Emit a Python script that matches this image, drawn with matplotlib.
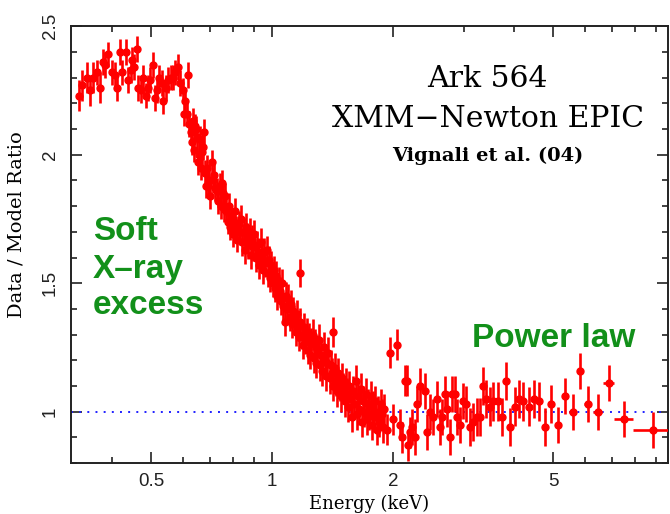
import matplotlib
matplotlib.use("Agg")
import matplotlib.pyplot as plt
import numpy as np
from matplotlib.ticker import FixedLocator, NullFormatter, MultipleLocator

# soft band, plateau below ~0.6 keV
soft_e = [0.331, 0.336, 0.347, 0.353, 0.358, 0.367, 0.374, 0.379, 0.385, 0.391,
          0.399, 0.407, 0.411, 0.418, 0.423, 0.432, 0.438, 0.445, 0.449, 0.454,
          0.461, 0.464, 0.472, 0.478, 0.486, 0.492, 0.497, 0.506, 0.512, 0.518,
          0.524, 0.532, 0.536, 0.545, 0.551, 0.560, 0.567, 0.573, 0.584, 0.590,
          0.599, 0.604, 0.608, 0.613, 0.618]
soft_r = [2.23, 2.27, 2.30, 2.25, 2.30, 2.32, 2.26, 2.36, 2.35, 2.39,
          2.32, 2.31, 2.26, 2.40, 2.32, 2.40, 2.29, 2.33, 2.37, 2.34,
          2.41, 2.26, 2.25, 2.30, 2.23, 2.26, 2.29, 2.35, 2.22, 2.25,
          2.30, 2.28, 2.21, 2.26, 2.29, 2.30, 2.30, 2.32, 2.34, 2.28,
          2.25, 2.16, 2.21, 2.16, 2.31]
soft_err = [0.06, 0.06, 0.06, 0.06, 0.06, 0.05, 0.06, 0.05, 0.05, 0.05,
            0.05, 0.05, 0.05, 0.05, 0.05, 0.05, 0.05, 0.05, 0.05, 0.05,
            0.05, 0.05, 0.05, 0.05, 0.05, 0.05, 0.05, 0.05, 0.05, 0.05,
            0.05, 0.05, 0.05, 0.05, 0.05, 0.05, 0.05, 0.05, 0.05, 0.05,
            0.05, 0.05, 0.05, 0.05, 0.05]

# the drop, 0.62 - 1.9 keV
mid_e = [0.622, 0.628, 0.632, 0.636, 0.640, 0.643, 0.647, 0.651, 0.654, 0.658,
         0.662, 0.665, 0.668, 0.672, 0.677, 0.680, 0.685, 0.689, 0.693, 0.697,
         0.702, 0.708, 0.712, 0.717, 0.722, 0.728, 0.733, 0.740, 0.745, 0.750,
         0.756, 0.760, 0.764, 0.770, 0.775, 0.781, 0.786, 0.792, 0.797, 0.803,
         0.808, 0.814, 0.820, 0.826, 0.831, 0.837, 0.843, 0.849, 0.855, 0.861,
         0.867, 0.873, 0.879, 0.885, 0.891, 0.897, 0.904, 0.910, 0.916, 0.923,
         0.929, 0.936, 0.942, 0.949, 0.955, 0.962, 0.969, 0.975, 0.982, 0.989,
         0.996, 1.003, 1.010, 1.017, 1.024, 1.031, 1.038, 1.045, 1.053, 1.060,
         1.067, 1.075, 1.082, 1.090, 1.097, 1.105, 1.113, 1.120, 1.128, 1.136,
         1.144, 1.152, 1.160, 1.168, 1.174, 1.176, 1.184, 1.193, 1.201, 1.209,
         1.218, 1.226, 1.235, 1.243, 1.252, 1.261, 1.270, 1.278, 1.287, 1.296,
         1.305, 1.315, 1.324, 1.333, 1.343, 1.352, 1.362, 1.371, 1.381, 1.391,
         1.401, 1.411, 1.418, 1.421, 1.431, 1.441, 1.451, 1.461, 1.472, 1.482,
         1.493, 1.503, 1.514, 1.525, 1.535, 1.546, 1.557, 1.568, 1.580, 1.591,
         1.602, 1.614, 1.625, 1.637, 1.648, 1.660, 1.672, 1.684, 1.696, 1.708,
         1.720, 1.733, 1.745, 1.758, 1.770, 1.783, 1.796, 1.808, 1.821, 1.834,
         1.848, 1.861, 1.874, 1.888, 1.901]
mid_r = [2.12, 2.09, 2.05, 2.13, 2.02, 2.11, 2.10, 2.07, 1.97, 2.00,
         2.06, 1.95, 2.01, 2.03, 2.09, 1.93, 1.88, 1.95, 1.88, 1.90,
         1.84, 1.97, 1.90, 1.92, 1.87, 1.86, 1.82, 1.88, 1.80, 1.89,
         1.85, 1.79, 1.84, 1.78, 1.74, 1.80, 1.72, 1.76, 1.69, 1.74,
         1.78, 1.71, 1.67, 1.73, 1.70, 1.75, 1.66, 1.70, 1.63, 1.72,
         1.68, 1.65, 1.70, 1.61, 1.67, 1.64, 1.69, 1.60, 1.65, 1.62,
         1.57, 1.66, 1.60, 1.55, 1.62, 1.58, 1.63, 1.54, 1.59, 1.52,
         1.57, 1.50, 1.55, 1.48, 1.53, 1.45, 1.51, 1.47, 1.43, 1.50,
         1.41, 1.35, 1.45, 1.40, 1.44, 1.37, 1.42, 1.34, 1.39, 1.36,
         1.31, 1.38, 1.33, 1.29, 1.54, 1.35, 1.30, 1.26, 1.33, 1.28,
         1.31, 1.24, 1.29, 1.22, 1.27, 1.30, 1.21, 1.26, 1.19, 1.24,
         1.28, 1.18, 1.22, 1.16, 1.25, 1.20, 1.14, 1.19, 1.23, 1.13,
         1.18, 1.15, 1.31, 1.10, 1.17, 1.12, 1.08, 1.15, 1.10, 1.06,
         1.13, 1.09, 1.04, 1.11, 1.07, 1.02, 1.10, 1.05, 0.98, 1.08,
         1.03, 1.12, 0.99, 1.06, 1.01, 1.09, 0.96, 1.04, 1.00, 1.07,
         0.97, 1.03, 0.99, 1.06, 0.95, 1.02, 0.98, 1.04, 0.93, 1.00,
         0.96, 1.03, 0.99, 0.94, 1.01]
mid_err = [0.05] * 45 + [0.055] * 60 + [0.06] * 60

# hard band, power law region
hard_e = [1.93, 1.97, 2.00, 2.05, 2.08, 2.11, 2.14, 2.17, 2.18, 2.20,
          2.23, 2.27, 2.29, 2.33, 2.40, 2.43, 2.47, 2.52, 2.57, 2.62,
          2.64, 2.69, 2.72, 2.77, 2.80, 2.85, 2.88, 2.94, 2.99, 3.04,
          3.11, 3.16, 3.24, 3.29, 3.35, 3.40, 3.48, 3.55, 3.65, 3.73,
          3.82, 3.91, 4.03, 4.12, 4.22, 4.36, 4.48, 4.62, 4.78, 4.95,
          5.15, 5.37, 5.59, 5.83, 6.10, 6.46, 6.89, 7.51, 8.86]
hard_r = [0.93, 1.23, 0.97, 1.26, 0.95, 0.90, 1.12, 1.12, 0.87, 0.92,
          0.94, 0.90, 1.03, 1.10, 1.08, 0.92, 1.00, 0.98, 1.05, 0.94,
          0.98, 1.07, 1.01, 0.90, 1.07, 1.07, 0.98, 0.95, 1.04, 1.03,
          0.94, 0.96, 0.98, 0.98, 1.10, 1.05, 1.02, 1.04, 1.04, 0.98,
          1.12, 0.94, 1.02, 1.05, 1.04, 1.02, 1.05, 1.04, 0.94, 1.03,
          0.95, 1.06, 1.00, 1.16, 1.03, 1.00, 1.11, 0.97, 0.93]
hard_err = [0.06] * 10 + [0.07] * 20 + [0.075] * 20 + [0.07] * 9
# energy bin half-widths (only the wide high-energy bins are visible)
hard_xlo = [0.0] * 50 + [0.08, 0.09, 0.10, 0.11, 0.12, 0.17, 0.22, 0.41, 0.96]
hard_xhi = [0.0] * 50 + [0.08, 0.09, 0.10, 0.11, 0.12, 0.17, 0.21, 0.39, 0.94]

red = "#ff0000"
green = "#12901a"

fig = plt.figure(figsize=(6.70, 5.14), dpi=100)
ax = fig.add_axes([0.106, 0.099, 0.891, 0.850])

style = dict(fmt="o", color=red, ms=5, elinewidth=1.9, capsize=0, zorder=3)
ax.errorbar(soft_e, soft_r, yerr=soft_err, **style)
ax.errorbar(mid_e, mid_r, yerr=mid_err, **style)
ax.errorbar(hard_e, hard_r, yerr=hard_err, xerr=[hard_xlo, hard_xhi], **style)

ax.axhline(1.0, color="#2020ff", lw=1.4, ls=(0, (1, 3.2)), zorder=2)

ax.set_xscale("log")
ax.set_xlim(0.316, 9.66)
ax.set_ylim(0.80, 2.5)

ax.xaxis.set_major_locator(FixedLocator([0.5, 1, 2, 5]))
ax.xaxis.set_minor_locator(FixedLocator([0.4, 0.6, 0.7, 0.8, 0.9, 3, 4, 6, 7, 8, 9]))
ax.xaxis.set_minor_formatter(NullFormatter())
ax.set_xticklabels(["0.5", "1", "2", "5"])
ax.yaxis.set_major_locator(FixedLocator([1, 1.5, 2, 2.5]))
ax.yaxis.set_minor_locator(MultipleLocator(0.1))
ax.set_yticklabels(["1", "1.5", "2", "2.5"])

ax.tick_params(which="both", direction="in", top=True, right=True, width=1.2,
               colors="#222222")
ax.tick_params(which="major", length=8)
ax.tick_params(which="minor", length=4)
ax.tick_params(axis="x", pad=7, labelsize=13.5)
ax.tick_params(axis="y", pad=9, labelsize=13.5)
for lab in ax.get_xticklabels() + ax.get_yticklabels():
    lab.set_family("Liberation Sans")
for lab in ax.get_yticklabels():
    lab.set_rotation(90)
    lab.set_va("center")
for sp in ax.spines.values():
    sp.set_linewidth(1.4)
    sp.set_color("#222222")

ax.set_xlabel("Energy (keV)", family="DejaVu Serif", fontsize=13)
ax.set_ylabel("Data / Model Ratio", family="DejaVu Serif", fontsize=14)
ax.xaxis.set_label_coords(0.5, -0.073)
ax.yaxis.set_label_coords(-0.077, 0.547)

# annotations
fig.text(0.728, 0.831, "Ark 564", ha="center", va="baseline",
         family="DejaVu Serif", fontsize=21.5)
fig.text(0.728, 0.752, "XMM\u2212Newton EPIC", ha="center", va="baseline",
         family="DejaVu Serif", fontsize=21.5)
fig.text(0.728, 0.687, "Vignali et al. (04)", ha="center", va="baseline",
         family="DejaVu Serif", fontsize=14, weight="bold")

gkw = dict(ha="left", va="baseline", family="Liberation Sans", weight="bold",
           fontsize=24, color=green)
fig.text(0.139, 0.533, "Soft", **gkw)
fig.text(0.139, 0.459, "X\u2013ray", **gkw)
fig.text(0.139, 0.389, "excess", **gkw)
fig.text(0.704, 0.325, "Power law", **gkw)

fig.savefig("out.png", dpi=100)
